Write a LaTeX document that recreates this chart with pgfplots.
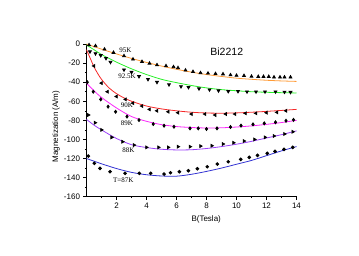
\documentclass[border=0pt]{standalone}
\usepackage{pgfplots}
\pgfplotsset{compat=1.18}
\usepackage{fontspec}
\setmainfont{Liberation Sans}
\newfontfamily\timesfont{Liberation Serif}
\definecolor{corange}{RGB}{255,155,55}
\definecolor{cgreen}{RGB}{40,240,40}
\definecolor{cred}{RGB}{245,40,40}
\definecolor{cmag}{RGB}{250,40,250}
\definecolor{cpurple}{RGB}{155,65,250}
\definecolor{cblue}{RGB}{50,50,210}
\begin{document}
\begin{tikzpicture}
\begin{axis}[name=ax, scale only axis, width=210pt, height=152.7pt,
  xmin=0, xmax=14, ymin=-160, ymax=0,
  axis lines*=left, clip=false,
  xtick={2,4,...,14}, minor xtick={1,3,...,13},
  ytick={-160,-140,...,0}, minor ytick={-150,-130,...,-10},
  tick align=outside,
  major tick length=3pt, minor tick length=1.5pt,
  tick style={black, line width=0.6pt},
  axis line style={line width=0.7pt},
  tick label style={font=\fontsize{8}{9}\selectfont},
  /pgf/number format/assume math mode=true,
  xlabel={B(Tesla)}, ylabel={Magnetization (A/m)},
  label style={font=\fontsize{8}{9}\selectfont},
  xlabel style={at={(axis description cs:0.57,-0.1)}, anchor=north},
  ylabel style={at={(axis description cs:-0.11,0.46)}},
  every axis plot/.append style={line width=0.8pt},
]
% fitted curves
\addplot[corange, smooth, no marks] coordinates {(0,0) (1,-5.4) (2,-10.4) (3,-15.1) (4,-19.3) (5,-23.1) (6,-26.5) (7,-29.5) (8,-32) (9,-34) (10,-35.8) (11,-37) (12,-38) (13,-38.7) (14,-39.2)};
\addplot[cgreen, smooth, no marks] coordinates {(0,-1) (0.5,-6) (1,-11) (2,-19) (3,-26) (4,-32) (5,-37) (6,-40.5) (7,-43.5) (8,-46) (9,-47.8) (10,-49) (11,-50) (12,-50.6) (13,-51) (14,-51.3)};
\addplot[cred, smooth, no marks] coordinates {(0,-6) (0.25,-15) (0.5,-24) (0.75,-31) (1,-37) (1.5,-46) (2,-52) (2.5,-56.5) (3,-60) (4,-65) (5,-68) (6,-70) (7,-71.5) (8,-72.3) (9,-72.5) (10,-72.2) (11,-71.5) (12,-70.6) (13,-69.6) (14,-68.5)};
\addplot[cmag, smooth, no marks] coordinates {(0,-41) (0.5,-49) (1,-56) (2,-67) (3,-76) (4,-81) (5,-84.5) (6,-86.5) (7,-87.5) (8,-88) (9,-87.8) (10,-87) (11,-85.8) (12,-84.2) (13,-82.3) (14,-80)};
\addplot[cpurple, smooth, no marks] coordinates {(0,-79) (0.5,-85) (1,-90) (2,-99) (3,-105.5) (4,-108.5) (5,-110.3) (6,-111) (7,-110.8) (8,-109.5) (9,-107.5) (10,-105) (11,-102) (12,-98.5) (13,-95) (14,-91)};
\addplot[cblue, smooth, no marks] coordinates {(0,-120) (1,-125.5) (2,-130.5) (3,-134.5) (4,-137) (5,-138.3) (6,-138.5) (7,-136.5) (8,-133.5) (9,-130) (10,-126) (11,-122) (12,-117) (13,-112) (14,-107.5)};
% data
\addplot[only marks, mark=triangle*, mark size=1.6pt, black] coordinates {(0.17,-1) (0.6,-2) (1.2,-5.5) (1.8,-9) (2.5,-12.5) (3.1,-16) (3.7,-18.5) (4.2,-20.3) (4.7,-22) (5.3,-23) (5.8,-24) (6.1,-25) (6.6,-27.5) (7.1,-29) (7.6,-30.3) (8.1,-30.7) (8.6,-31.2) (9.1,-31.5) (9.6,-32.5) (10.0,-33) (10.5,-33.2) (11.0,-34) (11.45,-34.2) (11.8,-34.2) (12.15,-34.2) (12.5,-34.8) (12.9,-34.8) (13.2,-34.8) (13.6,-34.8)};
\addplot[only marks, mark=triangle*, mark size=1.6pt, mark options={rotate=180}, black] coordinates {(0.23,-8) (0.6,-10) (0.95,-12) (1.3,-15) (1.6,-19) (2.5,-27) (3.0,-29.5) (3.5,-34) (4.1,-37) (4.7,-40) (5.5,-42.5) (6.3,-44.5) (6.8,-45.4) (7.5,-46.8) (8.2,-47.9) (8.8,-48.9) (9.45,-49.6) (10.1,-49.6) (10.7,-50) (11.3,-50) (11.9,-50) (12.6,-50) (13.2,-50.3) (13.6,-50.5)};
\addplot[only marks, mark=triangle*, mark size=1.6pt, mark options={rotate=90}, black] coordinates {(0.5,-23) (1.0,-41) (1.4,-50) (2.0,-55) (2.6,-58) (3.1,-62) (3.7,-65) (4.2,-68.5) (4.7,-70) (5.45,-71) (6.1,-72) (7.0,-73.4) (7.9,-73.4) (8.57,-74.4) (9.28,-73.4) (9.9,-73.4) (10.6,-72.6) (11.3,-72.6) (12.0,-72) (12.7,-71.6) (13.3,-70)};
\addplot[only marks, mark=diamond*, mark size=1.5pt, black] coordinates {(0.05,-40) (0.45,-50) (0.95,-58) (1.44,-65.7) (1.94,-71) (2.7,-76) (3.5,-79.7) (4.45,-83.9) (5.17,-85.6) (5.83,-86.7) (6.9,-88.4) (7.45,-88.4) (8.0,-89) (8.7,-88.4) (9.6,-87) (10.3,-85.5) (11.1,-84.2) (11.85,-83.2) (12.6,-82) (13.3,-80.5) (13.8,-79.5)};
\addplot[only marks, mark=triangle*, mark size=1.6pt, mark options={rotate=-90}, black] coordinates {(0.12,-74.4) (0.57,-82.5) (1.0,-90) (1.68,-97.8) (2.4,-102.4) (3.17,-105.9) (4.0,-108.3) (4.8,-108.3) (5.45,-108.3) (6.1,-107.6) (6.9,-107.6) (7.6,-107) (8.35,-106.6) (9.1,-104.8) (9.8,-103.5) (10.5,-101.7) (11.2,-100) (11.9,-97.8) (12.5,-96.4) (13.2,-94.3) (13.75,-92)};
\addplot[only marks, mark=*, mark size=1.4pt, black] coordinates {(0.12,-117.4) (0.52,-125) (0.9,-130.3) (1.57,-133.8) (2.57,-135.5) (3.52,-135.5) (4.28,-135.5) (5.17,-136.3) (5.6,-134.9) (6.19,-133.8) (6.79,-132.8) (7.39,-130.7) (8.05,-128.6) (8.72,-125.8) (9.45,-123.4) (10.28,-120.9) (10.85,-118.8) (11.4,-116.7) (12.05,-114.6) (12.57,-112.5) (13.17,-110.4) (13.75,-108.3)};
% labels
\node[font=\timesfont\fontsize{7}{8}\selectfont] at (axis cs:2.6,-6.3) {95K};
\node[font=\timesfont\fontsize{7}{8}\selectfont] at (axis cs:2.7,-34.2) {92.5K};
\node[font=\timesfont\fontsize{7}{8}\selectfont] at (axis cs:2.7,-63.9) {90K};
\node[font=\timesfont\fontsize{7}{8}\selectfont] at (axis cs:2.7,-83.2) {89K};
\node[font=\timesfont\fontsize{7}{8}\selectfont] at (axis cs:2.8,-111) {88K};
\node[font=\timesfont\fontsize{7}{8}\selectfont] at (axis cs:2.45,-142.5) {T=87K};
\node[font=\fontsize{10.5}{12}\selectfont] at (axis cs:9.35,-8) {Bi2212};
\end{axis}
\pgfresetboundingbox
\path[use as bounding box] (ax.south west) ++(-86.5pt,-59.3pt) rectangle ++(359pt,256pt);
\end{tikzpicture}
\end{document}
